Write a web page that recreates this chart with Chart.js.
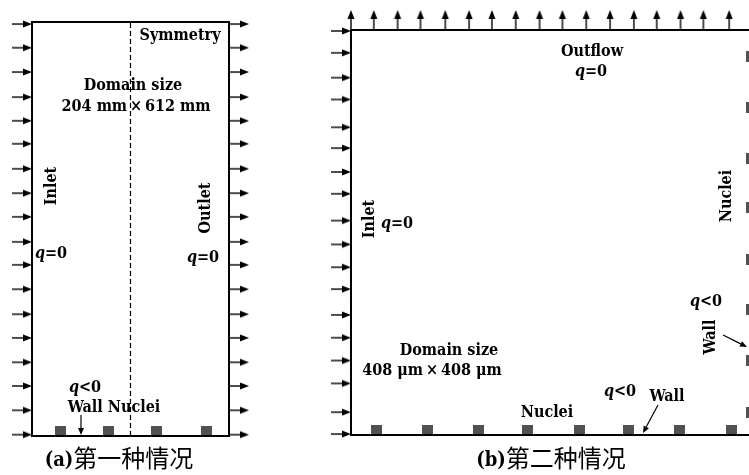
<!DOCTYPE html>
<html>
<head>
<meta charset="utf-8">
<script src="https://cdn.jsdelivr.net/npm/chart.js@4.4.1/dist/chart.umd.min.js"></script>
<style>
    html, body { margin: 0; padding: 0; background: #fff; }
    canvas { display: block; }
</style>
</head>
<body>
<canvas id="fig" width="749" height="475"></canvas>
<script>
(function () {
    'use strict';

    // panel (a): sizes in mm
    var domainA = [204, 612];
    var symmetryA = [102];
    var inletA = [2, 38, 74, 109, 145, 180, 217, 253, 287, 324, 359, 395, 432, 466, 501, 538, 574, 609];
    var outletA = [2, 38, 74, 109, 145, 180, 217, 253, 287, 324, 359, 395, 432, 466, 501, 538, 574, 609];
    var nucleiA = [30, 79, 129, 181];

    // panel (b): sizes in um
    var domainB = [408, 408];
    var outflowB = [0, 23, 47, 70, 95, 119, 142, 166, 190, 213, 237, 261, 285, 308, 332, 355, 381];
    var inletB = [407, 385, 360, 338, 310, 289, 265, 243, 216, 192, 169, 147, 121, 98, 75, 52, 23, 1];
    var nucleiBottomB = [26, 77, 128, 178, 230, 280, 331, 383];
    var nucleiRightB = [381, 330, 279, 229, 177, 126, 75, 23];

    var W = 749, H = 475;
    var SERIF = '"DejaVu Serif Condensed", "DejaVu Serif", serif';
    var CJK = '"Noto Sans CJK SC", sans-serif';

    // where each panel frame sits on the page
    var frameA = { left: 32, right: 229, top: 22, bottom: 436 };
    var frameB = { left: 351, top: 30, bottom: 435 };
    frameB.right = frameB.left + (frameB.bottom - frameB.top);

    function xRange(f, span) {
        var k = (f.right - f.left) / span;
        return { min: -f.left / k, max: (W - f.left) / k };
    }

    function yRange(f, span) {
        var k = (f.bottom - f.top) / span;
        return { min: (f.bottom - H) / k, max: f.bottom / k };
    }

    // arrow picture, centred either on its tip or on its tail
    function arrowImage(len, tipAtCentre) {
        var head = 9, half = 3.5;
        var c = document.createElement('canvas');
        c.width = len * 2 + 2;
        c.height = 10;
        var g = c.getContext('2d');
        var mid = c.height / 2;
        var x0 = tipAtCentre ? 1 : len + 1;
        var x1 = x0 + len;
        g.strokeStyle = '#000';
        g.lineWidth = 1.4;
        g.beginPath();
        g.moveTo(x0, mid);
        g.lineTo(x1 - head + 1, mid);
        g.stroke();
        g.fillStyle = '#000';
        g.beginPath();
        g.moveTo(x1, mid);
        g.lineTo(x1 - head, mid - half);
        g.lineTo(x1 - head, mid + half);
        g.closePath();
        g.fill();
        return c;
    }

    // nucleus block sitting on the wall: centre of picture is on the wall
    function nucleusImage(along, across, side) {
        var c = document.createElement('canvas');
        var g = c.getContext('2d');
        if (side === 'up') {
            c.width = along;
            c.height = across * 2;
            g.fillStyle = '#515151';
            g.fillRect(0, 0, along, across);
        } else {
            c.width = across * 2;
            c.height = along;
            g.fillStyle = '#515151';
            g.fillRect(0, 0, across, along);
        }
        return c;
    }

    function rect(w, h) {
        return [{ x: 0, y: 0 }, { x: w, y: 0 }, { x: w, y: h }, { x: 0, y: h }, { x: 0, y: 0 }];
    }

    function pts(list, fixed, isX) {
        return list.map(function (v) {
            return isX ? { x: v, y: fixed } : { x: fixed, y: v };
        });
    }

    var arrowIn = arrowImage(20, true);
    var arrowOut = arrowImage(20, false);
    var nucUp = nucleusImage(11, 10, 'up');
    var nucLeft = nucleusImage(11, 10, 'left');

    var lineStyle = { showLine: true, pointRadius: 0, borderColor: '#000', fill: false,
        borderJoinStyle: 'miter', borderCapStyle: 'square' };
    var pointStyle = { pointRadius: 12, showLine: false };

    var datasets = [
        Object.assign({ data: rect(domainA[0], domainA[1]), borderWidth: 2, xAxisID: 'xa', yAxisID: 'ya' }, lineStyle),
        Object.assign({ data: [{ x: symmetryA[0], y: 0 }, { x: symmetryA[0], y: domainA[1] }], borderWidth: 1.2,
            borderDash: [5, 3], xAxisID: 'xa', yAxisID: 'ya' }, lineStyle, { borderCapStyle: 'butt' }),
        Object.assign({ data: rect(domainB[0], domainB[1]), borderWidth: 2, xAxisID: 'xb', yAxisID: 'yb' }, lineStyle),
        Object.assign({ data: pts(inletA, 0, false), pointStyle: arrowIn, indexAxis: 'y', xAxisID: 'xa', yAxisID: 'ya' }, pointStyle),
        Object.assign({ data: pts(outletA, domainA[0], false), pointStyle: arrowOut, indexAxis: 'y', xAxisID: 'xa', yAxisID: 'ya' }, pointStyle),
        Object.assign({ data: pts(nucleiA, 0, true), pointStyle: nucUp, xAxisID: 'xa', yAxisID: 'ya' }, pointStyle),
        Object.assign({ data: pts(outflowB, domainB[1], true), pointStyle: arrowOut, rotation: -90, xAxisID: 'xb', yAxisID: 'yb' }, pointStyle),
        Object.assign({ data: pts(inletB, 0, false), pointStyle: arrowIn, indexAxis: 'y', xAxisID: 'xb', yAxisID: 'yb' }, pointStyle),
        Object.assign({ data: pts(nucleiBottomB, 0, true), pointStyle: nucUp, xAxisID: 'xb', yAxisID: 'yb' }, pointStyle),
        Object.assign({ data: pts(nucleiRightB, domainB[0], false), pointStyle: nucLeft, indexAxis: 'y', xAxisID: 'xb', yAxisID: 'yb' }, pointStyle)
    ];

    // text and the small "Wall" pointers, page pixels
    var labels = [
        { t: 'Symmetry', x: 180, y: 40 },
        { t: 'Domain size', x: 133, y: 90 },
        { t: '204 mm\u2009\u00d7\u2009612 mm', x: 136, y: 111 },
        { t: 'Inlet', x: 56, y: 186, rot: -90 },
        { t: '*q*=0', x: 51, y: 258 },
        { t: 'Outlet', x: 210, y: 208, rot: -90 },
        { t: '*q*=0', x: 203, y: 262 },
        { t: '*q*<0', x: 85, y: 392 },
        { t: 'Wall Nuclei', x: 114, y: 412 },
        { t: 'Outflow', x: 592, y: 56 },
        { t: '*q*=0', x: 591, y: 76 },
        { t: 'Nuclei', x: 731, y: 196, rot: -90 },
        { t: 'Inlet', x: 374, y: 219, rot: -90 },
        { t: '*q*=0', x: 397, y: 228 },
        { t: 'Domain size', x: 449, y: 355 },
        { t: '408 \u03bcm\u2009\u00d7\u2009408 \u03bcm', x: 432, y: 375 },
        { t: 'Nuclei', x: 547, y: 417 },
        { t: '*q*<0', x: 620, y: 396 },
        { t: 'Wall', x: 667, y: 401 },
        { t: '*q*<0', x: 706, y: 306 },
        { t: 'Wall', x: 715, y: 337, rot: -90 }
    ];
    var captions = [
        { pre: '(a)', cjk: '第一种情况', x: 119, y: 467 },
        { pre: '(b)', cjk: '第二种情况', x: 551, y: 467 }
    ];
    var pointers = [
        [81, 415, 81, 435],
        [658, 405, 643, 433],
        [723, 335, 747, 347]
    ];

    function fontFor(italic, size) {
        return (italic ? 'italic ' : '') + 'bold ' + size + 'px ' + SERIF;
    }

    function drawLabel(ctx, lab) {
        var size = 16;
        var parts = lab.t.split('*');
        var total = 0;
        parts.forEach(function (p, i) {
            ctx.font = fontFor(i % 2 === 1, size);
            total += ctx.measureText(p).width;
        });
        ctx.save();
        ctx.translate(lab.x, lab.y);
        if (lab.rot) {
            ctx.rotate(lab.rot * Math.PI / 180);
        }
        var x = -total / 2;
        parts.forEach(function (p, i) {
            ctx.font = fontFor(i % 2 === 1, size);
            ctx.fillText(p, x, 0);
            x += ctx.measureText(p).width;
        });
        ctx.restore();
    }

    function drawCaption(ctx, cap) {
        ctx.font = 'bold 20px ' + SERIF;
        var w1 = ctx.measureText(cap.pre).width;
        ctx.font = '24px ' + CJK;
        var w2 = ctx.measureText(cap.cjk).width;
        var x = cap.x - (w1 + w2) / 2;
        ctx.font = 'bold 20px ' + SERIF;
        ctx.fillText(cap.pre, x, cap.y - 1);
        ctx.font = '24px ' + CJK;
        ctx.fillText(cap.cjk, x + w1, cap.y);
    }

    function drawPointer(ctx, p) {
        var ang = Math.atan2(p[3] - p[1], p[2] - p[0]);
        var head = 7, half = 3;
        ctx.save();
        ctx.lineWidth = 1.2;
        ctx.beginPath();
        ctx.moveTo(p[0], p[1]);
        ctx.lineTo(p[2] - Math.cos(ang) * head, p[3] - Math.sin(ang) * head);
        ctx.stroke();
        ctx.translate(p[2], p[3]);
        ctx.rotate(ang);
        ctx.beginPath();
        ctx.moveTo(0, 0);
        ctx.lineTo(-head, -half);
        ctx.lineTo(-head, half);
        ctx.closePath();
        ctx.fill();
        ctx.restore();
    }

    var annotate = {
        id: 'annotate',
        afterDraw: function (chart) {
            var ctx = chart.ctx;
            ctx.save();
            ctx.fillStyle = '#000';
            ctx.strokeStyle = '#000';
            ctx.textAlign = 'left';
            ctx.textBaseline = 'alphabetic';
            labels.forEach(function (lab) { drawLabel(ctx, lab); });
            captions.forEach(function (cap) { drawCaption(ctx, cap); });
            pointers.forEach(function (p) { drawPointer(ctx, p); });
            ctx.restore();
        }
    };

    var rxA = xRange(frameA, domainA[0]), ryA = yRange(frameA, domainA[1]);
    var rxB = xRange(frameB, domainB[0]), ryB = yRange(frameB, domainB[1]);

    function hidden(r, pos) {
        return { type: 'linear', position: pos, display: false, bounds: 'data', min: r.min, max: r.max };
    }

    new Chart(document.getElementById('fig'), {
        type: 'scatter',
        data: { datasets: datasets },
        options: {
            responsive: false,
            animation: false,
            events: [],
            layout: { padding: 0, autoPadding: false },
            plugins: {
                legend: { display: false },
                tooltip: { enabled: false }
            },
            scales: {
                xa: hidden(rxA, 'bottom'),
                ya: hidden(ryA, 'left'),
                xb: hidden(rxB, 'bottom'),
                yb: hidden(ryB, 'left')
            }
        },
        plugins: [annotate]
    });
})();
</script>
</body>
</html>
